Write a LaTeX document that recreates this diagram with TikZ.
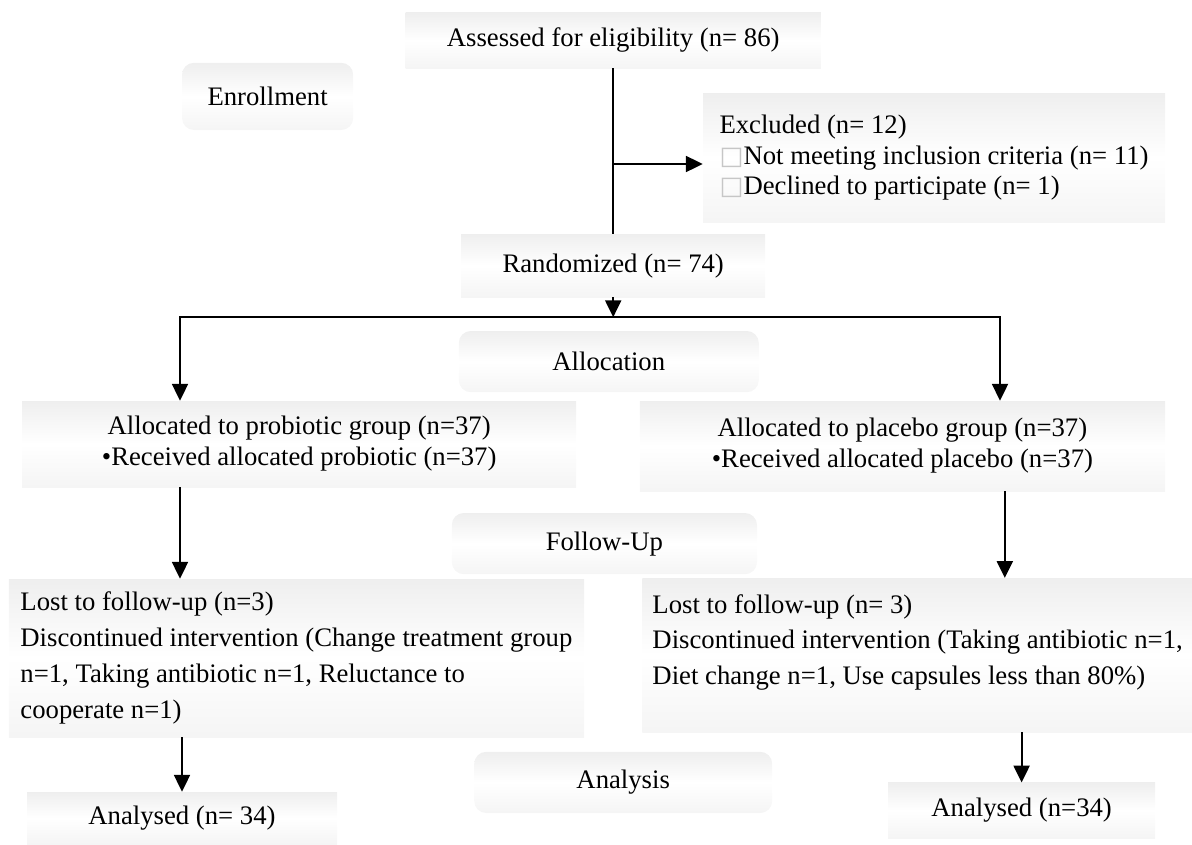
\documentclass[tikz,border=0pt]{standalone}
\usepackage{fontspec}
\setmainfont{Liberation Serif}
\newfontfamily\sqfont{DejaVu Sans}[Scale=0.95]
\usepackage{tikz}
\usetikzlibrary{arrows.meta,positioning,calc}

\tikzset{
  box/.style={top color=gray!13, bottom color=gray!8, middle color=white, inner sep=0pt, minimum height=1.38cm},
  phase/.style={box, rounded corners=0.3cm},
  tbox/.style={box, align=left, inner xsep=0.25cm},
  lost/.style={font=\fontsize{19}{25.5}\selectfont},
  conn/.style={line width=1.3pt},
  arrow/.style={conn, -{Triangle[width=0.4cm,length=0.42cm]}},
  twoway/.style={conn, {Triangle[width=0.4cm,length=0.42cm]}-{Triangle[width=0.4cm,length=0.42cm]}},
}
\newcommand{\sq}{{\sqfont\color{gray!45}□}}

\begin{document}
\begin{tikzpicture}[font=\fontsize{19}{22}\selectfont]
    \useasboundingbox (0,0) rectangle (29.8,-21.1);

    % enrollment
    \node[box, minimum width=10.38cm] (assess) at (15.33,-1.01) {Assessed for eligibility (n= 86)};
    \node[phase, minimum width=4.28cm, minimum height=1.68cm] (enroll) at (6.69,-2.41) {Enrollment};
    \node[tbox, minimum width=11.55cm, minimum height=3.23cm] (excl) at (23.35,-3.94)
        {Excluded (n= 12)\\\sq Not meeting inclusion criteria (n= 11)\\\sq Declined to participate (n= 1)};
    \node[box, minimum width=7.6cm, minimum height=1.58cm] (rand) at (15.33,-6.64) {Randomized (n= 74)};

    % allocation
    \node[phase, minimum width=7.5cm, minimum height=1.53cm] (alloc) at (15.22,-9.04) {Allocation};
    \node[box, align=center, minimum width=13.85cm, minimum height=2.15cm] (prob) at (7.48,-11.1)
        {Allocated to probiotic group (n=37)\\•Received allocated probiotic (n=37)};
    \node[box, align=center, minimum width=13.13cm, minimum height=2.25cm] (plac) at (22.56,-11.15)
        {Allocated to placebo group (n=37)\\•Received allocated placebo (n=37)};

    % follow-up
    \node[phase, minimum width=7.63cm, minimum height=1.53cm] (follow) at (15.11,-13.59) {Follow-Up};
    \node[tbox, lost, minimum width=14.38cm, minimum height=3.95cm] (lostL) at (7.41,-16.45)
        {Lost to follow-up (n=3)\\Discontinued intervention (Change treatment group\\n=1, Taking antibiotic n=1, Reluctance to\\cooperate n=1)};
    \node[tbox, lost, minimum width=13.63cm, minimum height=3.85cm] (lostR) at (22.94,-16.38)
        {Lost to follow-up (n= 3)\\Discontinued intervention (Taking antibiotic n=1,\\Diet change n=1, Use capsules less than 80\%)\\[-0.38cm]\strut};

    % analysis
    \node[phase, minimum width=7.45cm, minimum height=1.53cm] (analysis) at (15.58,-19.56) {Analysis};
    \node[box, minimum width=7.75cm, minimum height=1.3cm] (anaL) at (4.55,-20.45) {Analysed (n= 34)};
    \node[box, minimum width=6.68cm, minimum height=1.38cm] (anaR) at (25.54,-20.26) {Analysed (n=34)};

    % connectors
    \coordinate (split) at (15.33,-4.1);
    \coordinate (busL) at (4.5,-7.93);
    \coordinate (busR) at (25.0,-7.93);
    \coordinate (colR) at (25.12,0);

    \draw[conn] (assess.south) -- (rand.north);
    \draw[arrow] (split) -- (split -| excl.west);
    \draw[arrow] (rand.south) -- (rand.south |- busL);
    \draw[twoway] (busL |- prob.north) -- (busL) -- (busR) -- (busR |- plac.north);
    \draw[arrow] (prob.south -| busL) -- (lostL.north -| busL);
    \draw[arrow] (plac.south -| colR) -- (lostR.north -| colR);
    \draw[arrow] (lostL.south -| anaL.north) -- (anaL.north);
    \draw[arrow] (lostR.south -| anaR.north) -- (anaR.north);
\end{tikzpicture}
\end{document}
